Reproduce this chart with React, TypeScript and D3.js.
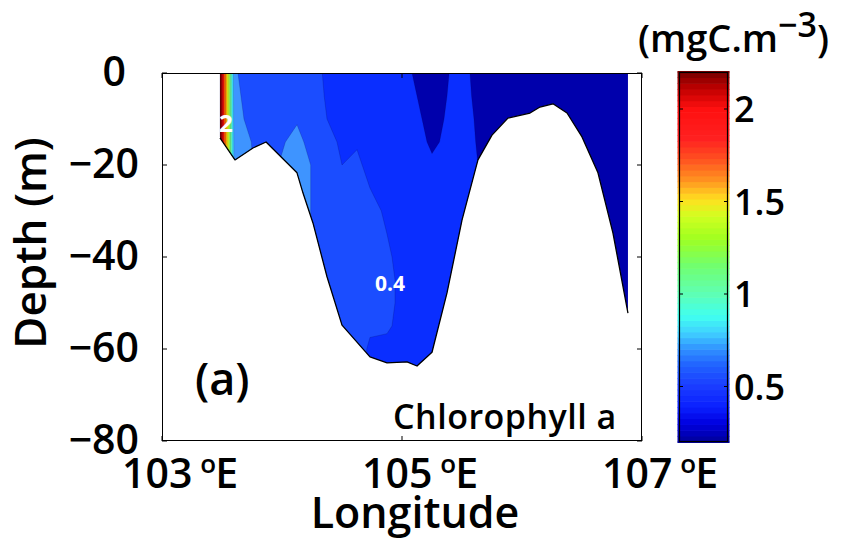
import React from 'react';
import * as d3 from 'd3';

// ---------------- DATA ----------------
// Station longitudes (°E) and depth levels (m) of the chlorophyll section
const stationLon = [103.483, 103.608, 103.758, 103.867, 104.125, 104.258, 104.375, 104.5, 104.625, 104.733, 104.875, 105.042, 105.25, 105.5, 105.633, 105.883, 106.258, 106.883];
const depthLevels = [0, -5, -10, -15, -20, -25, -30, -35, -40, -45, -50, -55, -60, -65];

// Chlorophyll a (mgC.m-3), one column per station, values from surface downwards
const chlorophyll = [
  [2.4, 2.4, 2.4, 2.4, 2.4, 2.4, 2.4, 2.4, 2.4, 2.4, 2.4, 2.4, 2.4, 2.4],
  [0.51, 0.52, 0.53, 0.55, 0.56, 0.56, 0.56, 0.56, 0.56, 0.56, 0.56, 0.56, 0.56, 0.56],
  [0.45, 0.46, 0.47, 0.495, 0.5, 0.5, 0.5, 0.5, 0.5, 0.5, 0.5, 0.5, 0.5, 0.5],
  [0.45, 0.45, 0.45, 0.45, 0.46, 0.46, 0.46, 0.46, 0.46, 0.46, 0.46, 0.46, 0.46, 0.46],
  [0.45, 0.47, 0.49, 0.53, 0.56, 0.56, 0.56, 0.56, 0.56, 0.56, 0.56, 0.56, 0.56, 0.56],
  [0.44, 0.44, 0.45, 0.46, 0.49, 0.49, 0.49, 0.49, 0.49, 0.49, 0.49, 0.49, 0.49, 0.49],
  [0.38, 0.39, 0.4, 0.42, 0.43, 0.44, 0.44, 0.44, 0.44, 0.44, 0.44, 0.44, 0.44, 0.44],
  [0.36, 0.37, 0.38, 0.39, 0.4, 0.42, 0.43, 0.44, 0.44, 0.44, 0.44, 0.44, 0.44, 0.44],
  [0.35, 0.36, 0.37, 0.395, 0.41, 0.43, 0.44, 0.44, 0.44, 0.44, 0.44, 0.43, 0.43, 0.43],
  [0.34, 0.35, 0.36, 0.37, 0.385, 0.4, 0.42, 0.43, 0.43, 0.43, 0.42, 0.41, 0.39, 0.39],
  [0.33, 0.34, 0.35, 0.36, 0.37, 0.38, 0.39, 0.4, 0.41, 0.42, 0.42, 0.41, 0.38, 0.37],
  [0.31, 0.32, 0.33, 0.34, 0.35, 0.36, 0.36, 0.37, 0.37, 0.37, 0.37, 0.37, 0.36, 0.36],
  [0.26, 0.27, 0.28, 0.29, 0.31, 0.33, 0.34, 0.35, 0.35, 0.35, 0.35, 0.35, 0.35, 0.35],
  [0.33, 0.33, 0.33, 0.33, 0.34, 0.34, 0.34, 0.34, 0.34, 0.34, 0.34, 0.34, 0.34, 0.34],
  [0.27, 0.28, 0.29, 0.295, 0.3, 0.3, 0.3, 0.3, 0.3, 0.3, 0.3, 0.3, 0.3, 0.3],
  [0.25, 0.25, 0.25, 0.25, 0.25, 0.25, 0.25, 0.25, 0.25, 0.25, 0.25, 0.25, 0.25, 0.25],
  [0.25, 0.25, 0.25, 0.25, 0.25, 0.25, 0.25, 0.25, 0.25, 0.25, 0.25, 0.25, 0.25, 0.25],
  [0.25, 0.25, 0.25, 0.25, 0.25, 0.25, 0.25, 0.25, 0.25, 0.25, 0.25, 0.25, 0.25, 0.25],
];

// Sea-floor profile along the section
const bathyLon = [103.483, 103.608, 103.758, 103.867, 104.125, 104.175, 104.258, 104.375, 104.5, 104.733, 104.875, 105.042, 105.125, 105.25, 105.375, 105.5, 105.633, 105.75, 105.883, 106.067, 106.15, 106.258, 106.375, 106.5, 106.633, 106.758, 106.883];
const bathyDepth = [-14.1, -18.9, -16.3, -15.0, -21.7, -26.1, -32.6, -44.3, -54.8, -61.7, -63.0, -62.8, -63.7, -60.7, -47.8, -32.0, -18.9, -13.5, -9.8, -8.7, -7.4, -6.7, -8.7, -13.9, -21.7, -34.8, -52.2];

// Filled-contour levels and their colours
const contourLevels = [0.3, 0.4, 0.5, 0.7, 0.9, 1.1, 1.3, 1.5, 1.7, 1.9, 2.1, 2.25];
const bandColors = ['#0a2eff', '#1b4dff', '#3e94ff', '#3ee6ff', '#5effb8', '#90ff50', '#e0ff18', '#ffb000', '#ff5a00', '#f01000', '#b00000', '#780000'];
const baseColor = '#0000ac';

// Inline contour labels
const labelText = ['2', '0.4'];
const labelLon = [103.533, 104.9];
const labelDepth = [-10.7, -45.6];

// Axes ticks
const xTicks = [103, 105, 107];
const yTicks = [0, -20, -40, -60, -80];
const cbTicks = [0.5, 1, 1.5, 2];
const cbRange = [0.2, 2.2];
const cbStopValues = [0.2, 0.3, 0.39, 0.5, 0.61, 0.7, 0.79, 0.88, 1.01, 1.15, 1.3, 1.42, 1.51, 1.62, 1.73, 1.84, 2.0, 2.11, 2.2];
const cbStopColors = ['#00009a', '#0000e0', '#0a20ff', '#1a3cff', '#2060ff', '#3090ff', '#40d0ff', '#40fff0', '#60ffb0', '#70ff70', '#a0ff20', '#d0ff20', '#ffe020', '#ff9020', '#ff5020', '#ff2020', '#ff1010', '#c00000', '#780000'];

// ---------------- LAYOUT ----------------
const W = 841, H = 542;
const L = 162, R = 642, T = 73, B = 441;
const CBL = 679, CBR = 728, CBT = 72, CBB = 442;
const FONT = '"Open Sans", "Noto Sans", sans-serif';

export default function App() {
  const x = d3.scaleLinear().domain([103, 107]).range([L, R]);
  const y = d3.scaleLinear().domain([0, -80]).range([T, B]);

  const nx = stationLon.length, ny = depthLevels.length;
  const grid: number[] = new Array(nx * ny);
  for (let j = 0; j < ny; j++) for (let i = 0; i < nx; i++) grid[j * nx + i] = chlorophyll[i][j];
  const bands = d3.contours().size([nx, ny]).thresholds(contourLevels)(grid);

  const idxToLon = d3.scaleLinear().domain(stationLon.map((_, i) => i + 0.5)).range(stationLon).clamp(true);
  const idxToDepth = d3.scaleLinear().domain(depthLevels.map((_, j) => j + 0.5)).range(depthLevels).clamp(true);
  const proj = d3.geoTransform({
    point(px: number, py: number) {
      (this as any).stream.point(x(idxToLon(px)), y(idxToDepth(py)));
    },
  });
  const gpath = d3.geoPath(proj as any);

  const bathyPts: [number, number][] = bathyLon.map((lon, i) => [x(lon), y(bathyDepth[i])]);
  const clipPts: [number, number][] = [[x(bathyLon[0]), y(0)], ...bathyPts, [x(bathyLon[bathyLon.length - 1]), y(0)]];
  const line = d3.line();

  const cb = d3.scaleLinear().domain(cbRange).range([CBB, CBT]);
  const cbColor = d3.scaleLinear<string>().domain(cbStopValues).range(cbStopColors).interpolate(d3.interpolateRgb);
  const nCb = 64;
  const step = (cbRange[1] - cbRange[0]) / nCb;
  const cbBands = d3.range(nCb).map((k) => cbRange[0] + k * step);

  return (
    <svg width={W} height={H} style={{ position: 'absolute', left: 0, top: 0, background: '#fff' }} fontFamily={FONT} fontWeight={600}>
      <defs>
        <clipPath id="sea">
          <path d={line(clipPts) + 'Z'} />
        </clipPath>
      </defs>

      <g clipPath="url(#sea)">
        <rect x={L} y={T} width={R - L} height={B - T} fill={baseColor} />
        {bands.map((b, i) => (
          <path key={i} d={gpath(b as any) || ''} fill={bandColors[i]} fillRule="evenodd" stroke="rgba(0,0,60,0.22)" strokeWidth={0.8} />
        ))}
      </g>
      <path d={line(bathyPts) || ''} fill="none" stroke="#000" strokeWidth={1.3} strokeLinejoin="round" />

      {labelText.map((t, i) => (
        <text key={t} x={x(labelLon[i])} y={y(labelDepth[i])} textAnchor="middle" dominantBaseline="central"
          fill="#fff" fontWeight={700} fontSize={t === '2' ? 24 : 21}>{t}</text>
      ))}

      {/* axes box */}
      <rect x={L + 0.5} y={T + 0.5} width={R - L - 1} height={B - T - 1} fill="none" stroke="#000" strokeWidth={1} />
      {xTicks.map((t) => (
        <g key={t}>
          <line x1={x(t)} x2={x(t)} y1={B} y2={B - 5} stroke="#000" />
          <line x1={x(t)} x2={x(t)} y1={T} y2={T + 5} stroke="#000" />
          <text x={x(t) - 40} y={488} fontSize={41} fill="#000">
            {String(t)}
            <tspan dx={8} dy={-15} fontSize={26}>o</tspan>
            <tspan dx={-1} dy={15}>E</tspan>
          </text>
        </g>
      ))}
      {yTicks.map((t) => (
        <g key={t}>
          <line x1={L} x2={L + 5} y1={y(t)} y2={y(t)} stroke="#000" />
          <line x1={R} x2={R - 5} y1={y(t)} y2={y(t)} stroke="#000" />
          <text x={t === 0 ? 126 : 139} y={y(t) + 13} textAnchor="end" fontSize={41} fill="#000">
            {t === 0 ? '0' : '\u2212' + Math.abs(t)}
          </text>
        </g>
      ))}

      <text x={415} y={528} textAnchor="middle" fontSize={43} fill="#000">Longitude</text>
      <text transform={`translate(46,${243}) rotate(-90)`} textAnchor="middle" fontSize={44} fill="#000">Depth (m)</text>
      <text x={195} y={395} fontSize={45} fill="#000">(a)</text>
      <text x={393} y={429} fontSize={34} letterSpacing={0.5} fill="#000">Chlorophyll a</text>

      {/* colorbar */}
      {cbBands.map((v, k) => (
        <rect key={k} x={CBL - 1.5} y={cb(v + step) - 0.3} width={CBR - CBL + 3} height={cb(v) - cb(v + step) + 0.6}
          fill={cbColor(v + step / 2)} />
      ))}
      <rect x={CBL - 1.5} y={CBT - 1} width={CBR - CBL + 3} height={1.5} fill={cbColor(cbRange[1])} />
      <rect x={CBL - 1.5} y={CBB - 0.5} width={CBR - CBL + 3} height={1.5} fill={cbColor(cbRange[0])} />
      <rect x={CBL + 0.5} y={CBT + 0.5} width={CBR - CBL - 1} height={CBB - CBT - 1} fill="none" stroke="#000" strokeWidth={1.2} />
      {cbTicks.map((t) => (
        <g key={t}>
          <line x1={CBL} x2={CBL + 4} y1={cb(t)} y2={cb(t)} stroke="#000" />
          <line x1={CBR} x2={CBR - 4} y1={cb(t)} y2={cb(t)} stroke="#000" />
          <text x={734} y={cb(t) + 13} fontSize={36} fill="#000">{String(t)}</text>
        </g>
      ))}
      <text x={638} y={52} fontSize={38} fill="#000">
        (mgC.m
        <tspan dy={-15} fontSize={34}>{'\u22123'}</tspan>
        <tspan dy={15}>)</tspan>
      </text>
    </svg>
  );
}
